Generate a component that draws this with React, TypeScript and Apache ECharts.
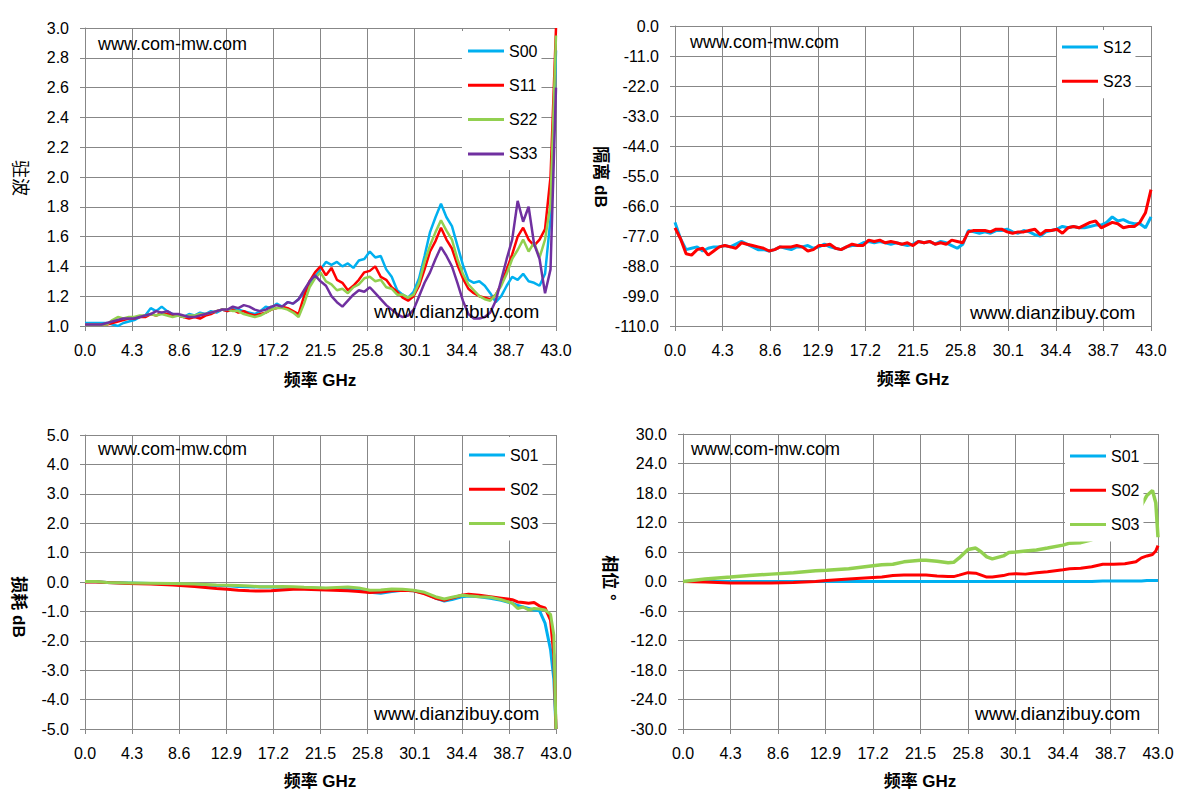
import React, { useEffect, useRef } from 'react'
import * as echarts from 'echarts'

// frequency grid, GHz
const freq = [
  0, 0.5, 1, 1.5, 2, 2.5, 3, 3.5, 4, 4.5,
  5, 5.5, 6, 6.5, 7, 7.5, 8, 8.5, 9, 9.5,
  10, 10.5, 11, 11.5, 12, 12.5, 13, 13.5, 14, 14.5,
  15, 15.5, 16, 16.5, 17, 17.5, 18, 18.5, 19, 19.5,
  20, 20.5, 21, 21.5, 22, 22.5, 23, 23.5, 24, 24.5,
  25, 25.5, 26, 26.5, 27, 27.5, 28, 28.5, 29, 29.5,
  30, 30.5, 31, 31.5, 32, 32.5, 33, 33.5, 34, 34.5,
  35, 35.5, 36, 36.5, 37, 37.5, 38, 38.5, 39, 39.5,
  40, 40.5, 41, 41.5, 42, 42.5, 43,
]

// VSWR
const s00 = [
  1.02, 1.02, 1.02, 1.02, 1.02, 1.01, 1.0, 1.02, 1.03, 1.04,
  1.06, 1.07, 1.12, 1.1, 1.13, 1.1, 1.08, 1.07, 1.06, 1.08,
  1.07, 1.09, 1.08, 1.1, 1.09, 1.11, 1.1, 1.12, 1.11, 1.1,
  1.09, 1.08, 1.1, 1.13, 1.12, 1.15, 1.13, 1.16, 1.15, 1.18,
  1.22, 1.27, 1.33, 1.38, 1.43, 1.41, 1.43, 1.4, 1.42, 1.39,
  1.44, 1.45, 1.5, 1.46, 1.47, 1.38, 1.33, 1.24, 1.21, 1.19,
  1.23, 1.32, 1.47, 1.63, 1.73, 1.82, 1.73, 1.67, 1.54, 1.41,
  1.31, 1.29, 1.3, 1.27, 1.22, 1.16, 1.2, 1.27, 1.33, 1.31,
  1.35, 1.3, 1.29, 1.27, 1.35, 1.72, 2.85,
]
const s11 = [
  1.01, 1.01, 1.01, 1.01, 1.01, 1.02, 1.03, 1.04, 1.05, 1.05,
  1.06, 1.06, 1.08, 1.07, 1.09, 1.08, 1.07, 1.07, 1.06, 1.05,
  1.06, 1.05, 1.07, 1.08, 1.1, 1.11, 1.1, 1.11, 1.09, 1.1,
  1.08, 1.07, 1.08, 1.09, 1.11, 1.12, 1.13, 1.12, 1.1, 1.08,
  1.2, 1.3, 1.36, 1.4, 1.34, 1.39, 1.31, 1.29, 1.24, 1.27,
  1.31, 1.36, 1.37, 1.4, 1.33, 1.31, 1.26, 1.23, 1.19, 1.17,
  1.2, 1.27, 1.38, 1.5, 1.57, 1.66, 1.58, 1.52, 1.41, 1.32,
  1.25, 1.22, 1.2, 1.19, 1.18, 1.21, 1.28, 1.38, 1.48, 1.6,
  1.66, 1.58, 1.54, 1.58, 1.65, 2.0, 3.0,
]
const s22 = [
  1.01, 1.01, 1.01, 1.01, 1.01, 1.04, 1.06, 1.05, 1.06, 1.06,
  1.07, 1.07, 1.08, 1.07, 1.08, 1.07, 1.06, 1.07, 1.06, 1.07,
  1.07, 1.08, 1.08, 1.09, 1.1, 1.11, 1.11, 1.1, 1.1, 1.08,
  1.07, 1.06, 1.07, 1.09, 1.11, 1.12, 1.12, 1.11, 1.09, 1.06,
  1.15, 1.26, 1.32, 1.36, 1.3, 1.28, 1.24, 1.25, 1.22, 1.26,
  1.28, 1.32, 1.33, 1.3, 1.31, 1.26, 1.25, 1.21, 1.21, 1.19,
  1.21, 1.29, 1.43, 1.54, 1.63, 1.71, 1.64, 1.58, 1.45, 1.35,
  1.28, 1.24, 1.2, 1.18, 1.17, 1.21, 1.27, 1.35, 1.45, 1.51,
  1.58, 1.5, 1.56, 1.46, 1.58, 1.82, 2.95,
]
const s33 = [
  1.01, 1.01, 1.01, 1.01, 1.02, 1.03, 1.04, 1.05, 1.05, 1.05,
  1.06, 1.07, 1.08, 1.1, 1.09, 1.1, 1.08, 1.08, 1.07, 1.06,
  1.06, 1.07, 1.08, 1.09, 1.1, 1.11, 1.11, 1.13, 1.12, 1.14,
  1.13, 1.11, 1.1, 1.11, 1.13, 1.14, 1.13, 1.16, 1.15, 1.18,
  1.24, 1.3, 1.34, 1.3, 1.27, 1.2, 1.16, 1.13, 1.17, 1.21,
  1.24, 1.23, 1.26, 1.22, 1.18, 1.14, 1.11, 1.08, 1.06, 1.07,
  1.11, 1.2, 1.29, 1.36, 1.45, 1.53, 1.47, 1.4, 1.29, 1.17,
  1.08, 1.05, 1.05, 1.06, 1.09, 1.17, 1.31, 1.45, 1.58, 1.84,
  1.7, 1.8, 1.55, 1.45, 1.22, 1.38, 2.6,
]

// isolation, dB
const s12 = [
  -72, -78, -82, -81.5, -81, -82.5, -81.5, -81, -81, -80.5,
  -81, -80, -79, -80, -81, -82, -82, -82.5, -82, -81,
  -81.5, -82, -81, -81, -80.5, -81.5, -81, -80, -81, -81.5,
  -82, -81, -80.5, -80.5, -79.5, -79, -79.5, -79, -79.5, -80,
  -79.5, -80, -80.5, -80, -79, -79.5, -79, -80, -79, -79.5,
  -80.5, -81.5, -80, -75, -75.5, -76, -75.5, -76, -75, -75,
  -74.5, -75.5, -76, -75, -75.5, -76.5, -77, -75.5, -75, -74.5,
  -73.5, -74, -73.5, -74, -74, -73.5, -73, -73, -72, -70,
  -71.5, -71, -72, -72.5, -72.5, -74, -70,
]
const s23 = [
  -74, -78, -83.5, -84, -82, -81.5, -84, -82.5, -81, -80.5,
  -81, -81.5, -79.5, -80, -80.5, -81, -81.5, -82.5, -82, -81,
  -81, -81, -80.5, -81, -82.5, -82, -80.5, -80.5, -80, -81.5,
  -82, -81, -80, -80.5, -80.5, -78.5, -79, -78.5, -79.5, -79,
  -79.5, -80, -79.5, -80.5, -79, -79.5, -79, -80, -79.5, -80,
  -78.5, -79, -79.5, -75.5, -75, -75, -75, -75.5, -74.5, -74.5,
  -75.5, -76, -75.5, -75.5, -75, -74.5, -76.5, -75, -75, -74.5,
  -76, -74, -73.5, -74, -73, -72, -71.5, -74, -73, -72,
  -72.5, -74, -73.5, -73.5, -72, -68.5, -60,
]

// insertion loss, dB
const freqLoss = [
  0, 1, 2, 4, 6, 8, 10, 12, 13, 14, 15, 16, 17, 18, 19, 20, 22, 24, 25, 26, 27,
  28, 29, 30, 31, 32, 32.8, 33.5, 34.4, 35, 36, 37, 38, 39, 39.5, 40, 40.5, 41,
  41.5, 42, 42.5, 42.8, 43,
]
const loss01 = [
  0.01, 0.01, -0.02, -0.03, -0.05, -0.07, -0.09, -0.12, -0.13, -0.15, -0.16,
  -0.17, -0.17, -0.18, -0.19, -0.2, -0.22, -0.25, -0.28, -0.35, -0.38, -0.32,
  -0.28, -0.3, -0.38, -0.55, -0.65, -0.6, -0.5, -0.48, -0.5, -0.55, -0.62,
  -0.72, -0.8, -0.85, -0.9, -0.95, -0.98, -1.4, -2.3, -3.3, -5.0,
]
const loss02 = [
  0, 0, -0.02, -0.05, -0.07, -0.1, -0.15, -0.22, -0.25, -0.28, -0.3, -0.31,
  -0.3, -0.27, -0.25, -0.25, -0.27, -0.3, -0.32, -0.36, -0.34, -0.3, -0.28,
  -0.3, -0.4, -0.55, -0.62, -0.55, -0.45, -0.42, -0.45, -0.5, -0.55, -0.6,
  -0.68, -0.7, -0.72, -0.7, -0.82, -0.88, -1.3, -2.5, -5.0,
]
const loss03 = [
  0.02, 0.02, -0.02, -0.03, -0.04, -0.05, -0.07, -0.1, -0.11, -0.12, -0.14,
  -0.16, -0.16, -0.15, -0.16, -0.18, -0.2, -0.17, -0.2, -0.28, -0.27, -0.24,
  -0.25, -0.28, -0.35, -0.5, -0.58, -0.52, -0.45, -0.47, -0.5, -0.52, -0.6,
  -0.72, -0.9, -0.85, -0.95, -0.9, -0.92, -0.95, -1.1, -1.8, -5.0,
]

// phase, degrees
const freqPhase = [
  0, 2, 4.3, 6, 8, 10, 12, 13, 15, 17.2, 18, 19, 20, 21.5, 22, 23, 24, 24.5,
  25, 25.8, 26.5, 27, 27.5, 28, 29, 29.5, 30.1, 31, 32, 33, 34.4, 35, 36, 37,
  38, 39, 40, 41, 41.5, 42, 42.5, 42.8, 43,
]
const phase01 = [
  0, 0, 0, 0, 0, 0, 0, 0, 0, 0, 0, 0, 0, 0, 0, 0, 0, 0, 0, 0, 0, 0, 0, 0, 0,
  0, 0, 0, 0, 0, 0, 0, 0, 0, 0.1, 0.1, 0.1, 0.1, 0.1, 0.2, 0.2, 0.2, 0.2,
]
const phase02 = [
  0, -0.1, -0.3, -0.3, -0.3, -0.2, 0, 0.2, 0.5, 0.8, 0.9, 1.2, 1.3, 1.3, 1.3,
  1.1, 1.0, 1.0, 1.3, 1.8, 1.7, 1.3, 0.9, 0.9, 1.2, 1.5, 1.6, 1.5, 1.8, 2.0,
  2.4, 2.6, 2.7, 3.0, 3.5, 3.5, 3.6, 4.0, 4.8, 5.2, 5.5, 6.2, 7.3,
]
const phase03 = [
  0, 0.5, 0.9, 1.2, 1.5, 1.8, 2.2, 2.3, 2.6, 3.2, 3.4, 3.5, 4.0, 4.3, 4.3,
  4.1, 3.8, 3.9, 4.8, 6.5, 6.8, 6.0, 5.0, 4.6, 5.2, 5.9, 6.0, 6.2, 6.4, 6.8,
  7.4, 7.8, 7.9, 8.5, 9.5, 11.0, 12.5, 14.5, 15.5, 17.5, 18.5, 16.0, 9.0,
]

const BLUE = '#00b0f0'
const RED = '#ff0000'
const GREEN = '#92d050'
const PURPLE = '#7030a0'
const GRID = '#878787'
const FONT = '"Liberation Sans", Arial, sans-serif'
const CJK = '"Liberation Sans", "Noto Sans CJK SC", sans-serif'

const pairs = (xs: number[], ys: number[]) => xs.map((x, i) => [x, ys[i]])

export default function App() {
  const chartRef = useRef<HTMLDivElement>(null)

  useEffect(() => {
    if (!chartRef.current) return
    document.body.style.margin = '0'
    const chart = echarts.init(chartRef.current, null, { renderer: 'svg' })

    const grids = [
      { left: 85, top: 28, width: 471, height: 298 },
      { left: 675, top: 26, width: 476, height: 300 },
      { left: 85, top: 435, width: 471, height: 294 },
      { left: 683, top: 434, width: 475, height: 295 },
    ]
    const yRanges = [
      { min: 1, max: 3, interval: 0.2 },
      { min: -110, max: 0, interval: 11 },
      { min: -5, max: 5, interval: 1 },
      { min: -30, max: 30, interval: 6 },
    ]

    const axisCommon = {
      axisLine: { show: true, onZero: false, lineStyle: { color: GRID, width: 1 } },
      axisTick: { show: true, length: 5, lineStyle: { color: GRID } },
      splitLine: { show: true, lineStyle: { color: GRID, width: 1 } },
      axisLabel: {
        color: '#000',
        fontSize: 16,
        fontFamily: FONT,
        margin: 16,
        formatter: (v: number) => v.toFixed(1),
      },
    }

    const line = (name: string, idx: number, data: number[][], color: string, width = 2.5) => ({
      name,
      type: 'line',
      xAxisIndex: idx,
      yAxisIndex: idx,
      data,
      showSymbol: false,
      symbol: 'none',
      lineStyle: { color, width },
      itemStyle: { color },
      z: 2,
    })

    const legendBase = {
      orient: 'vertical',
      icon: 'rect',
      itemWidth: 36,
      itemHeight: 3,
      itemGap: 14.3,
      backgroundColor: '#ffffff',
      selectedMode: false,
      textStyle: { color: '#000', fontSize: 16, fontFamily: FONT, lineHeight: 20 },
      z: 10,
    }

    const wm = (text: string, x: number, y: number, size: number) => ({
      type: 'text',
      x,
      y,
      z: 20,
      style: { text, fill: '#000', fontSize: size, fontFamily: FONT, align: 'left', verticalAlign: 'middle' },
    })
    const xName = (x: number, y: number) => ({
      type: 'text',
      x,
      y,
      style: { text: '频率 GHz', fill: '#000', fontSize: 17, fontWeight: 'bold', fontFamily: CJK, align: 'center', verticalAlign: 'middle' },
    })
    const yName = (text: string, x: number, y: number, weight: string, size = 17) => ({
      type: 'text',
      x,
      y,
      rotation: -Math.PI / 2,
      style: { text, fill: '#000', fontSize: size, fontWeight: weight, fontFamily: CJK, align: 'center', verticalAlign: 'middle' },
    })

    const option: any = {
      animation: false,
      backgroundColor: '#ffffff',
      grid: grids,
      xAxis: grids.map((_, i) => ({
        ...axisCommon,
        type: 'value',
        gridIndex: i,
        min: 0,
        max: 43,
        interval: 4.3,
      })),
      yAxis: yRanges.map((r, i) => ({
        ...axisCommon,
        type: 'value',
        gridIndex: i,
        ...r,
      })),
      legend: [
        { ...legendBase, left: 462, top: 31, padding: [10, 4, 6, 6], data: ['S00', 'S11', 'S22', 'S33'] },
        { ...legendBase, left: 1057, top: 30, padding: [7, 4, 7, 5], data: ['S12', 'S23'] },
        { ...legendBase, left: 463, top: 437, padding: [8, 4, 7, 6], data: ['S01', 'S02', 'S03'] },
        { ...legendBase, left: 1065, top: 438, padding: [8, 4, 7, 5], data: ['S01', 'S02', 'S03'] },
      ],
      series: [
        line('S00', 0, pairs(freq, s00), BLUE),
        line('S11', 0, pairs(freq, s11), RED),
        line('S22', 0, pairs(freq, s22), GREEN),
        line('S33', 0, pairs(freq, s33), PURPLE),
        line('S12', 1, pairs(freq, s12), BLUE, 3),
        line('S23', 1, pairs(freq, s23), RED, 3),
        line('S01', 2, pairs(freqLoss, loss01), BLUE, 3),
        line('S02', 2, pairs(freqLoss, loss02), RED, 3),
        line('S03', 2, pairs(freqLoss, loss03), GREEN, 3),
        line('S01', 3, pairs(freqPhase, phase01), BLUE, 3),
        line('S02', 3, pairs(freqPhase, phase02), RED, 3),
        line('S03', 3, pairs(freqPhase, phase03), GREEN, 3.5),
      ],
      graphic: [
        wm('www.com-mw.com', 98, 44, 18),
        wm('www.com-mw.com', 690, 42, 18),
        wm('www.com-mw.com', 98, 449, 18),
        wm('www.com-mw.com', 691, 449, 18),
        wm('www.dianzibuy.com', 374, 311, 19),
        wm('www.dianzibuy.com', 970, 312, 19),
        wm('www.dianzibuy.com', 374, 713, 19),
        wm('www.dianzibuy.com', 975, 713, 19),
        xName(320, 380),
        xName(913, 379),
        xName(320, 781),
        xName(920, 781),
        yName('驻波', 20, 178, 'normal', 18),
        yName('隔离 dB', 600, 177, 'bold'),
        yName('损耗 dB', 18, 607, 'bold'),
        yName('相位 °', 609, 578, 'bold'),
      ],
    }

    chart.setOption(option)
    return () => {
      chart.dispose()
    }
  }, [])

  return <div ref={chartRef} style={{ width: 1187, height: 803 }} />
}
